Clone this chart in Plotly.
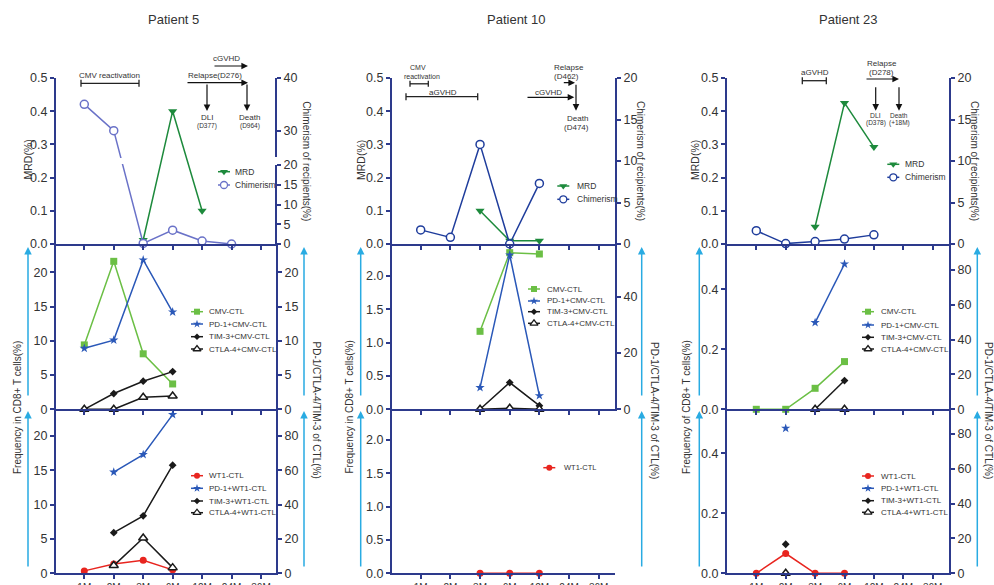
import plotly.graph_objects as go

# ---------------- data ----------------
months = ["1M", "2M", "3M", "6M", "12M", "24M", "36M"]

# Patient 5
p5_mrd = [None, None, 0.012, 0.40, 0.10, None, None]
p5_chimerism = [35.0, 30.0, 0.15, 3.5, 0.75, 0.0, None]
p5_cmv_ctl = [9.4, 21.6, 8.1, 3.7, None, None, None]
p5_pd1_cmv = [8.9, 10.1, 21.8, 14.2, None, None, None]
p5_tim3_cmv = [0.0, 2.3, 4.1, 5.5, None, None, None]
p5_ctla4_cmv = [0.0, 0.0, 1.75, 1.95, None, None, None]
p5_wt1_ctl = [0.35, 1.35, 1.9, 0.5, None, None, None]
p5_pd1_wt1 = [None, 59.0, 69.2, 92.5, None, None, None]
p5_tim3_wt1 = [None, 23.7, 33.5, 63.0, None, None, None]
p5_ctla4_wt1 = [None, 4.5, 20.6, 3.3, None, None, None]

# Patient 10
p10_mrd = [None, None, 0.10, 0.01, 0.01, None, None]
p10_chimerism = [1.7, 0.8, 12.0, 0.0, 7.3, None, None]
p10_cmv_ctl = [None, None, 1.17, 2.35, 2.33, None, None]
p10_pd1_cmv = [None, None, 7.7, 54.8, 4.85, None, None]
p10_tim3_cmv = [None, None, 0.0, 9.5, 1.3, None, None]
p10_ctla4_cmv = [None, None, 0.0, 0.35, 0.0, None, None]
p10_wt1_ctl = [None, None, 0.0, 0.0, 0.0, None, None]

# Patient 23
p23_mrd = [None, None, 0.052, 0.425, 0.292, None, None]
p23_chimerism = [1.6, 0.05, 0.3, 0.6, 1.1, None, None]
p23_cmv_ctl = [0.0, 0.0, 0.07, 0.159, None, None, None]
p23_pd1_cmv = [None, None, 49.8, 83.4, None, None, None]
p23_tim3_cmv = [None, None, 0.0, 16.5, None, None, None]
p23_ctla4_cmv = [None, None, 0.0, 0.0, None, None, None]
p23_wt1_ctl = [0.0, 0.066, 0.0, 0.0, None, None, None]
p23_pd1_wt1 = [None, 83.3, None, None, None, None, None]
p23_tim3_wt1 = [None, 16.7, None, None, None, None, None]
p23_ctla4_wt1 = [None, 0.0, None, None, None, None, None]

# broken chimerism axis for patient 5 (0-20 lower segment, 25-40 upper segment)
p5_chim_ticks = [0, 5, 10, 15, 20, 30, 40]

# ---------------- styles ----------------
W, H = 994, 585
FONT = "Arial, Liberation Sans, sans-serif"
TXT = "#333333"
NAVY = "#2d3a8c"
SKY = "#29abe2"
C_MRD = "#1d8a3c"
C_CHIM5 = "#6a72c8"
C_CHIM = "#1f3d9c"
C_CMV = "#6bbf45"
C_PD1 = "#2a58b8"
C_BLK = "#1a1a1a"
C_RED = "#e8251f"
TICKFONT = 12.5

STY = {
    "MRD": dict(color=C_MRD, symbol="triangle-down", size=8, open=False),
    "Chim5": dict(color=C_CHIM5, symbol="circle", size=8, open=True),
    "Chim": dict(color=C_CHIM, symbol="circle", size=8, open=True),
    "CMV": dict(color=C_CMV, symbol="square", size=7, open=False),
    "PD1": dict(color=C_PD1, symbol="star", size=7, open=False),
    "TIM3": dict(color=C_BLK, symbol="diamond", size=6, open=False),
    "CTLA4": dict(color=C_BLK, symbol="triangle-up", size=8, open=True),
    "WT1": dict(color=C_RED, symbol="circle", size=7, open=False),
}


def PX(x):
    return x / W


def PY(y):
    return 1 - y / H


def brk(v):
    return v * 79.0 / 20.0 if v <= 20 else 87.0 + (v - 25.0) * 79.0 / 15.0


def nm(prefix, i):
    return prefix if i == 1 else f"{prefix}{i}"


fig = go.Figure()
layout = dict(
    width=W, height=H, autosize=False,
    margin=dict(l=0, r=0, t=0, b=0, pad=0, autoexpand=False),
    paper_bgcolor="white", plot_bgcolor="rgba(0,0,0,0)",
    showlegend=False, font=dict(family=FONT, color=TXT),
)
shapes = []
annotations = []
panel_counter = [0]


def yaxis_common(rng, tickvals, ticktext, fmt, side, line=True):
    d = dict(range=rng, tickvals=tickvals, side=side, showline=line,
             linecolor=NAVY, linewidth=2, ticks="outside", ticklen=4,
             tickwidth=1.5, tickcolor=NAVY, showgrid=False, zeroline=False,
             automargin=False,
             tickfont=dict(size=TICKFONT, color=TXT, family=FONT), fixedrange=True)
    if ticktext is not None:
        d["ticktext"] = ticktext
    else:
        d["tickformat"] = fmt
    return d


def make_panel(xdom, first_tick, spacing, ydom, lrange, lticks, lfmt,
               rrange, rticks, rfmt, rtext=None, xlabels=False, rline=True):
    k = panel_counter[0]
    panel_counter[0] += 1
    xi, yl, yr = k + 1, 2 * k + 1, 2 * k + 2
    xref, ylref, yrref = nm("x", xi), nm("y", yl), nm("y", yr)
    x0, x1 = xdom
    rng = [(x0 - first_tick) / spacing, (x1 - first_tick) / spacing]
    layout[nm("xaxis", xi)] = dict(
        domain=[PX(x0), PX(x1)], range=rng, anchor=ylref,
        tickvals=list(range(len(months))), ticktext=months,
        showticklabels=xlabels, ticks="outside", ticklen=4, tickwidth=1.5,
        tickcolor=NAVY, showline=True, linecolor=NAVY, linewidth=2,
        showgrid=False, zeroline=False, fixedrange=True, automargin=False,
        tickfont=dict(size=10, color=TXT, family=FONT))
    yd = [PY(ydom[1]), PY(ydom[0])]
    la = yaxis_common(lrange, lticks, None, lfmt, "left")
    la.update(domain=yd, anchor=xref)
    layout[nm("yaxis", yl)] = la
    ra = yaxis_common(rrange, rticks, rtext, rfmt, "right", line=rline)
    ra.update(anchor=xref, overlaying=ylref)
    layout[nm("yaxis", yr)] = ra
    return xref, ylref, yrref


def series(xref, yref, vals, key):
    s = STY[key]
    xs = list(range(len(vals)))
    fig.add_trace(go.Scatter(
        x=xs, y=vals, xaxis=xref, yaxis=yref, mode="lines+markers",
        line=dict(color=s["color"], width=1.5),
        marker=dict(symbol=s["symbol"], size=s["size"],
                    color="white" if s["open"] else s["color"],
                    line=dict(width=1.5 if s["open"] else 0, color=s["color"])),
        hoverinfo="skip", cliponaxis=False))


def text(x, y, s, size, angle=0, xanchor="center"):
    annotations.append(dict(x=PX(x), y=PY(y), xref="paper", yref="paper", text=s,
                            showarrow=False, xanchor=xanchor, yanchor="middle",
                            textangle=angle, font=dict(size=size, color=TXT, family=FONT)))


def arrow(xh, yh, xt, yt, color="#111111", width=1.2, size=1.1):
    annotations.append(dict(x=PX(xh), y=PY(yh), xref="paper", yref="paper", text="",
                            showarrow=True, ax=xt - xh, ay=yt - yh, arrowhead=2,
                            arrowsize=size, arrowwidth=width, arrowcolor=color))


def hline(x0, x1, y, color="#222222", w=1.3):
    shapes.append(dict(type="line", xref="paper", yref="paper", x0=PX(x0), x1=PX(x1),
                       y0=PY(y), y1=PY(y), line=dict(color=color, width=w)))


def bracket(x0, x1, y, h=3.5):
    hline(x0, x1, y)
    for xx in (x0, x1):
        shapes.append(dict(type="line", xref="paper", yref="paper", x0=PX(xx), x1=PX(xx),
                           y0=PY(y - h), y1=PY(y + h), line=dict(color="#222222", width=1.3)))


legend_items = []


def legend(mx, tx, rows, entries, fs):
    for yy, (key, label) in zip(rows, entries):
        legend_items.append((mx, yy, key))
        text(tx, yy, label, fs, xanchor="left")


Y_TOP, Y_MID, Y_BOT = (78, 244), (244, 409.3), (409.3, 573.3)

# ================= Patient 5 =================
X5 = (56, 276)
xr, yl, yr = make_panel(X5, 84.3, 29.45, Y_TOP, [0, 0.5], [0, 0.1, 0.2, 0.3, 0.4, 0.5], ".1f",
                        [0, 166], [brk(v) for v in p5_chim_ticks], None,
                        rtext=[str(v) for v in p5_chim_ticks], rline=False)
series(xr, yr, [None if v is None else brk(v) for v in p5_chimerism], "Chim5")
series(xr, yl, p5_mrd, "MRD")
# broken right axis line and gap in chimerism line
for a, b in ((0, 79), (87, 166)):
    shapes.append(dict(type="line", xref="paper", yref=yr, x0=PX(276), x1=PX(276), y0=a, y1=b,
                       line=dict(color=NAVY, width=2)))
shapes.append(dict(type="rect", xref=xr, yref=yr, x0=1.12, x1=1.45, y0=80, y1=86,
                   fillcolor="white", line=dict(width=0), layer="above"))
legend(224, 233, [171.7, 185], [("MRD", "MRD"), ("Chim5", "Chimerism")], 8.5)

xr, yl, yr = make_panel(X5, 84.3, 29.45, Y_MID, [0, 24.13], [0, 5, 10, 15, 20], "d",
                        [0, 24.13], [0, 5, 10, 15, 20], "d")
series(xr, yl, p5_cmv_ctl, "CMV")
series(xr, yr, p5_pd1_cmv, "PD1")
series(xr, yr, p5_tim3_cmv, "TIM3")
series(xr, yr, p5_ctla4_cmv, "CTLA4")
legend(197, 206.7, [311.7, 324, 336.7, 349],
       [("CMV", "CMV-CTL"), ("PD1", "PD-1+CMV-CTL"), ("TIM3", "TIM-3+CMV-CTL"),
        ("CTLA4", "CTLA-4+CMV-CTL")], 8)

xr, yl, yr = make_panel(X5, 84.3, 29.45, Y_BOT, [0, 23.85], [0, 5, 10, 15, 20], "d",
                        [0, 95.6], [0, 20, 40, 60, 80], "d", xlabels=True)
series(xr, yl, p5_wt1_ctl, "WT1")
series(xr, yr, p5_pd1_wt1, "PD1")
series(xr, yr, p5_tim3_wt1, "TIM3")
series(xr, yr, p5_ctla4_wt1, "CTLA4")
legend(197, 206.7, [475.7, 488.3, 501, 512.7],
       [("WT1", "WT1-CTL"), ("PD1", "PD-1+WT1-CTL"), ("TIM3", "TIM-3+WT1-CTL"),
        ("CTLA4", "CTLA-4+WT1-CTL")], 8)

# events P5
text(109, 75.7, "CMV reactivation", 8)
bracket(81, 139, 83.3)
text(226.5, 59, "cGVHD", 8)
arrow(248, 66, 213, 66)
text(214.5, 75.7, "Relapse(D276)", 8)
arrow(248, 82.7, 186, 82.7)
arrow(207, 111, 207, 83)
text(207, 118, "DLI", 8)
text(207, 126, "(D377)", 6.5)
arrow(247, 111, 247, 83)
text(249.5, 118, "Death", 8)
text(250, 126, "(D964)", 6.5)

# ================= Patient 10 =================
X10 = (392, 615)
xr, yl, yr = make_panel(X10, 420.7, 29.67, Y_TOP, [0, 0.5], [0, 0.1, 0.2, 0.3, 0.4, 0.5], ".1f",
                        [0, 20], [0, 5, 10, 15, 20], "d")
series(xr, yr, p10_chimerism, "Chim")
series(xr, yl, p10_mrd, "MRD")
legend(563.3, 575, [186, 199.3], [("MRD", "MRD"), ("Chim", "Chimerism")], 8.5)

xr, yl, yr = make_panel(X10, 420.7, 29.67, Y_MID, [0, 2.48], [0, 0.5, 1.0, 1.5, 2.0], ".1f",
                        [0, 58.7], [0, 20, 40], "d")
series(xr, yl, p10_cmv_ctl, "CMV")
series(xr, yr, p10_pd1_cmv, "PD1")
series(xr, yr, p10_tim3_cmv, "TIM3")
series(xr, yr, p10_ctla4_cmv, "CTLA4")
legend(534, 545, [289, 301, 311.7, 323.3],
       [("CMV", "CMV-CTL"), ("PD1", "PD-1+CMV-CTL"), ("TIM3", "TIM-3+CMV-CTL"),
        ("CTLA4", "CTLA-4+CMV-CTL")], 8)

xr, yl, yr = make_panel(X10, 420.7, 29.67, Y_BOT, [0, 2.46], [0, 0.5, 1.0, 1.5, 2.0], ".1f",
                        [0, 58.4], [0, 20, 40], "d", xlabels=True)
series(xr, yl, p10_wt1_ctl, "WT1")
legend(549.3, 561.7, [467.7], [("WT1", "WT1-CTL")], 7.5)

# events P10
text(418.2, 67.5, "CMV", 7)
text(422, 76.2, "reactivation", 7)
bracket(410, 428.3, 83.8, h=3)
bracket(406, 477.7, 96.7)
text(443.3, 92.7, "aGVHD", 8)
text(548.3, 92.7, "cGVHD", 8)
arrow(574.3, 97.3, 526, 97.3)
text(569.2, 67.7, "Relapse", 8)
text(566.7, 76.7, "(D462)", 8)
arrow(575, 82.7, 562.3, 82.7)
arrow(576, 110.7, 576, 83.3)
text(577.3, 118.3, "Death", 8)
text(576.7, 127.3, "(D474)", 8)

# ================= Patient 23 =================
X23 = (727, 949)
xr, yl, yr = make_panel(X23, 756.3, 29.4, Y_TOP, [0, 0.5], [0, 0.1, 0.2, 0.3, 0.4, 0.5], ".1f",
                        [0, 20], [0, 5, 10, 15, 20], "d")
series(xr, yr, p23_chimerism, "Chim")
series(xr, yl, p23_mrd, "MRD")
legend(893.3, 903.3, [164.3, 177.3], [("MRD", "MRD"), ("Chim", "Chimerism")], 8.5)

xr, yl, yr = make_panel(X23, 756.3, 29.4, Y_MID, [0, 0.551], [0, 0.2, 0.4], ".1f",
                        [0, 94.9], [0, 20, 40, 60, 80], "d")
series(xr, yl, p23_cmv_ctl, "CMV")
series(xr, yr, p23_pd1_cmv, "PD1")
series(xr, yr, p23_tim3_cmv, "TIM3")
series(xr, yr, p23_ctla4_cmv, "CTLA4")
legend(868, 879, [311.7, 325, 337.3, 349],
       [("CMV", "CMV-CTL"), ("PD1", "PD-1+CMV-CTL"), ("TIM3", "TIM-3+CMV-CTL"),
        ("CTLA4", "CTLA-4+CMV-CTL")], 8)

xr, yl, yr = make_panel(X23, 756.3, 29.4, Y_BOT, [0, 0.547], [0, 0.2, 0.4], ".1f",
                        [0, 94.2], [0, 20, 40, 60, 80], "d", xlabels=True)
series(xr, yl, p23_wt1_ctl, "WT1")
series(xr, yr, p23_pd1_wt1, "PD1")
series(xr, yr, p23_tim3_wt1, "TIM3")
series(xr, yr, p23_ctla4_wt1, "CTLA4")
legend(868, 879, [476, 488.3, 500.7, 512.3],
       [("WT1", "WT1-CTL"), ("PD1", "PD-1+WT1-CTL"), ("TIM3", "TIM-3+WT1-CTL"),
        ("CTLA4", "CTLA-4+WT1-CTL")], 8)

# events P23
text(815.2, 72.3, "aGVHD", 8)
bracket(802.3, 826.3, 80.7)
text(882.3, 63.3, "Relapse", 8)
text(881, 72.3, "(D278)", 8)
arrow(899, 79, 865, 79)
arrow(875.7, 110.7, 875.7, 85.7)
text(875.7, 115.3, "DLI", 6.8)
text(875.7, 123.3, "(D378)", 6.5)
arrow(899, 110.7, 899, 85.7)
text(899, 115.3, "Death", 6.5)
text(899, 123.3, "(+18M)", 6.5)

# ================= titles / axis titles / blue arrows =================
titles = [("Patient 5", 173), ("Patient 10", 516), ("Patient 23", 848)]
for t, x in titles:
    text(x, 20, t, 13)

freq_titles = ["Frequency in CD8+ T cells(%)", "Frequency in CD8+ T cells(%)",
               "Frequency of CD8+ T cells(%)"]
geom = [
    # mrd_x, chim_x, freq_x, ratio_x, arrow_left, arrow_right
    (27.5, 306.7, 17.5, 316.5, 28, 304),
    (361, 641, 349, 655, 360.7, 641.7),
    (695, 975, 686.5, 989, 699.3, 977.3),
]
for (mx, cx, fx, rx, al, ar), ft in zip(geom, freq_titles):
    text(mx, 160, "MRD(%)", 10.5, angle=-90)
    text(cx, 161, "Chimerism of recipients(%)", 10, angle=90)
    text(fx, 407.5, ft, 10, angle=-90)
    text(rx, 410, "PD-1/CTLA-4/TIM-3 of CTL(%)", 10, angle=90)
    for xx in (al, ar):
        arrow(xx, 247, xx, 397, color=SKY, width=1.5, size=1)
        arrow(xx, 411, xx, 568, color=SKY, width=1.5, size=1)

# ================= legend samples (pixel overlay) =================
layout["xaxis10"] = dict(domain=[0, 1], range=[0, W], visible=False, fixedrange=True,
                         anchor="y19", automargin=False)
layout["yaxis19"] = dict(domain=[0, 1], range=[H, 0], visible=False, fixedrange=True,
                         anchor="x10", automargin=False)
for mx, yy, key in legend_items:
    s = STY[key]
    fig.add_trace(go.Scatter(x=[mx - 6, mx + 6], y=[yy, yy], xaxis="x10", yaxis="y19",
                             mode="lines", line=dict(color=s["color"], width=1.5),
                             hoverinfo="skip"))
    fig.add_trace(go.Scatter(x=[mx], y=[yy], xaxis="x10", yaxis="y19", mode="markers",
                             marker=dict(symbol=s["symbol"], size=s["size"] - 1,
                                         color="white" if s["open"] else s["color"],
                                         line=dict(width=1.3 if s["open"] else 0, color=s["color"])),
                             hoverinfo="skip"))

layout["shapes"] = shapes
layout["annotations"] = annotations
fig.update_layout(**layout)
fig.write_html("out.html", config={"displayModeBar": False},
               post_script="document.body.style.margin='0px';document.body.style.overflow='hidden';")
